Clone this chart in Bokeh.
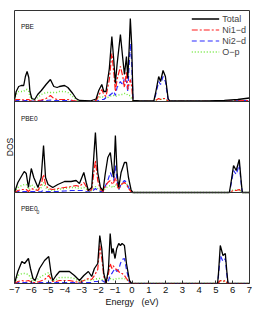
from bokeh.plotting import figure
from bokeh.models import Range1d, Span, Label, Legend, LegendItem, FixedTicker
from bokeh.embed import file_html
from bokeh.resources import INLINE

# ---------------- data ----------------
series_names = ["Total", "Ni1\u2212d", "Ni2\u2212d", "O\u2212p"]
tick_values = [-7, -6, -5, -4, -3, -2, -1, 0, 1, 2, 3, 4, 5, 6, 7]
tick_labels = ["\u22127", "\u22126", "\u22125", "\u22124", "\u22123", "\u22122", "\u22121",
               "0", "1", "2", "3", "4", "5", "6", "7"]
panel_names = ["PBE", "PBE0", "PBE0"]

# PBE
pbe_e = [-7.0, -6.9, -6.75, -6.6, -6.45, -6.35, -6.25, -6.15, -6.08, -5.97, -5.8, -5.62, -5.4,
         -5.12, -4.86, -4.66, -4.46, -4.32, -4.02, -3.82, -3.53, -3.33, -3.13, -2.5, -2.14,
         -1.98, -1.8, -1.68, -1.55, -1.35, -1.2, -1.08, -0.99, -0.89, -0.69, -0.55, -0.45,
         -0.33, -0.25, -0.16, -0.1, -0.02, 0.06, 0.5, 1.3, 1.4, 1.59, 1.7, 1.85, 1.99, 2.15,
         2.25, 4.5, 5.5, 6.3, 7.0]
pbe_total = [2, 10, 15, 16, 16, 25, 30, 24, 10, 3, 2, 7, 11,
             17, 22, 15, 14, 15, 16, 14, 8, 3, 1, 0.5, 2.5,
             11, 17, 10, 10, 33, 65, 40, 18, 37, 67, 43, 27,
             45, 23, 57, 83, 57, 1, 0.5, 0.5, 8, 25, 20, 31, 25, 3,
             0.5, 0.6, 1.2, 2, 3.5]
pbe_ni1 = [1, 2, 2, 2, 1.5, 2, 2, 2, 1, 0.5, 0.5, 1, 1.5,
           3, 6, 3, 2, 2, 2, 2, 1, 0.5, 0.3, 0.2, 1,
           6, 12, 7, 5, 22, 48, 28, 10, 22, 35, 25, 14,
           30, 12, 18, 22, 15, 0.3, 0.2, 0.2, 1, 3, 2, 3, 3, 0.5,
           0.2, 0.2, 0.4, 0.6, 1]
pbe_ni2 = [0.5, 1, 1, 1, 1, 1, 1, 1, 0.5, 0.3, 0.3, 0.5, 1,
           1, 1.5, 1, 1, 1, 1, 1, 0.5, 0.3, 0.2, 0.1, 0.5,
           1, 2, 2, 4, 6, 8, 10, 6, 14, 20, 16, 24,
           20, 10, 40, 58, 40, 0.5, 0.2, 0.2, 6, 20, 17, 25, 20, 2,
           0.2, 0.2, 0.4, 0.6, 1]
pbe_op = [1.5, 7, 10, 10, 10, 12, 12, 10, 5, 2, 1.5, 4, 7,
          9, 9, 9, 9, 10, 10, 9, 5, 2, 0.5, 0.3, 1,
          4, 5, 4, 3, 5, 6, 6, 5, 6, 7, 7, 8,
          8, 6, 6, 5, 3, 0.2, 0.1, 0.1, 1, 3, 2, 3, 2, 0.3,
          0.1, 0.1, 0.2, 0.3, 0.5]

# PBE0
pbe0_e = [-7.0, -6.8, -6.56, -6.42, -6.3, -6.17, -6.0, -5.85, -5.6, -5.41, -5.27, -5.15, -5.0,
          -4.72, -4.42, -4.02, -3.63, -3.33, -3.13, -2.87, -2.73, -2.6, -2.4, -2.18, -2.04,
          -1.88, -1.72, -1.6, -1.44, -1.29, -1.15, -1.09, -0.99, -0.89, -0.79, -0.65, -0.45,
          -0.33, -0.21, -0.06, 0.04, 5.8, 5.9, 6.05, 6.21, 6.39, 6.5, 6.57, 7.0]
pbe0_total = [0, 10, 17, 21, 19, 5, 24, 15, 5, 15, 47, 15, 8,
              5, 8, 11, 11, 12, 9, 20, 10, 2, 5, 60, 20,
              5, 2, 18, 35, 40, 20, 15, 57, 20, 5, 20, 30,
              30, 15, 3, 0, 0, 10, 27, 22, 33, 12, 0, 0]
pbe0_ni1 = [0, 2, 3, 3, 3, 1, 4, 3, 2, 8, 18, 8, 4,
            3, 4, 5, 6, 7, 6, 10, 6, 1, 3, 32, 12,
            3, 1, 6, 10, 12, 8, 10, 15, 8, 3, 8, 10,
            8, 4, 1, 0, 0, 1, 2, 2, 3, 1, 0, 0]
pbe0_ni2 = [0, 1, 1, 1, 1, 0.5, 1, 1, 0.5, 1, 2, 1, 1,
            1, 1, 1.5, 2, 2, 2, 2, 1, 0.5, 1, 4, 2,
            1, 1, 6, 12, 20, 14, 12, 27, 12, 3, 8, 12,
            10, 5, 1, 0, 0, 8, 22, 18, 28, 10, 0, 0]
pbe0_op = [0, 5, 7, 8, 8, 3, 8, 6, 2, 5, 10, 5, 3,
           2, 3, 4, 5, 5, 4, 5, 4, 1, 2, 6, 4,
           2, 1, 4, 6, 7, 5, 5, 8, 6, 3, 8, 10,
           9, 5, 1, 0, 0, 1, 3, 2, 3, 1, 0, 0]

# PBE0_0
pbe00_e = [-7.0, -6.8, -6.56, -6.4, -6.17, -6.05, -5.9, -5.77, -5.51, -5.21, -4.96, -4.82, -4.72,
           -4.52, -4.32, -4.02, -3.73, -3.43, -3.13, -2.87, -2.6, -2.4, -2.24, -2.04, -1.92,
           -1.8, -1.68, -1.54, -1.4, -1.3, -1.2, -1.13, -1.01, -0.91, -0.79, -0.69, -0.59,
           -0.45, -0.33, -0.15, -0.02, 5.1, 5.16, 5.26, 5.42, 5.56, 5.65, 5.72, 7.0]
pbe00_total = [0, 12, 22, 20, 25, 15, 5, 3, 15, 23, 27, 10, 3,
               8, 12, 12, 12, 8, 3, 8, 12, 7, 15, 20, 48,
               35, 10, 0.5, 15, 50, 30, 35, 25, 35, 40, 38, 40,
               38, 20, 3, 0, 0, 12, 38, 28, 30, 12, 0, 0]
pbe00_ni1 = [0, 2, 3, 2, 3, 2, 1, 1, 2, 4, 8, 4, 2,
             2, 3, 3, 3, 2, 1, 3, 5, 4, 8, 14, 38,
             25, 7, 0.3, 10, 20, 15, 18, 15, 14, 12, 10, 10,
             8, 5, 1, 0, 0, 1, 3, 2, 3, 1, 0, 0]
pbe00_ni2 = [0, 1, 1, 1, 1, 1, 0.5, 0.5, 1, 1, 1, 1, 0.5,
             1, 1, 1, 1, 1, 0.5, 1, 1, 1, 2, 2, 3,
             3, 2, 0.2, 3, 8, 10, 12, 15, 12, 14, 20, 24,
             25, 14, 1, 0, 0, 9, 28, 22, 25, 9, 0, 0]
pbe00_op = [0, 8, 10, 10, 9, 6, 3, 2, 6, 9, 11, 5, 2,
            4, 6, 6, 6, 5, 2, 3, 4, 3, 4, 5, 5,
            4, 2, 0.2, 3, 5, 4, 4, 4, 5, 5, 5, 5,
            5, 4, 1, 0, 0, 1, 3, 2, 2, 1, 0, 0]

# ---------------- styling ----------------
FONT = "Liberation Sans"
H = 91.0
colors = ["#000000", "#ff1a1a", "#2a2aff", "#6fe83a"]
dashes = ["solid", "6 2 2 2", "5 3", "1 2"]
widths = [1.3, 1.2, 1.2, 1.4]

p = figure(frame_width=235, frame_height=273, min_border_left=14, min_border_right=3,
           min_border_top=10, min_border_bottom=0,
           x_range=Range1d(-7, 7), y_range=Range1d(0, 3 * H),
           output_backend="svg", toolbar_location=None)
p.extra_y_ranges = {"pbe": Range1d(-2 * H, H), "pbe0": Range1d(-H, 2 * H)}
p.grid.visible = False
p.outline_line_color = "#333333"
p.outline_line_width = 1
p.background_fill_color = "white"
p.border_fill_color = "white"

panels = [
    ("pbe", pbe_e, [pbe_total, pbe_ni1, pbe_ni2, pbe_op]),
    ("pbe0", pbe0_e, [pbe0_total, pbe0_ni1, pbe0_ni2, pbe0_op]),
    ("default", pbe00_e, [pbe00_total, pbe00_ni1, pbe00_ni2, pbe00_op]),
]

legend_renderers = {}
for pi, (rname, es, vals) in enumerate(panels):
    for si in [3, 2, 1, 0]:
        r = p.line(es, vals[si], line_color=colors[si], line_dash=dashes[si],
                   line_width=widths[si], y_range_name=rname)
        if pi == 0:
            legend_renderers[si] = r

# panel separators
for loc in [H, 2 * H]:
    p.add_layout(Span(location=loc, dimension="width", line_color="#333333", line_width=1))

# panel labels
label_y = [75.3, 74.3, 75.5]
for pi, (rname, _, _) in enumerate(panels):
    p.add_layout(Label(x=-6.62, y=label_y[pi], y_range_name=rname, text=panel_names[pi],
                       text_font=FONT, text_font_size="6.5px", text_align="left",
                       text_baseline="middle", text_color="#111111"))
p.add_layout(Label(x=-6.62, y=71.5, x_offset=15.5, text="0",
                   text_font=FONT, text_font_size="5px", text_align="left",
                   text_baseline="middle", text_color="#111111"))

# legend
items = [LegendItem(label=series_names[i], renderers=[legend_renderers[i]]) for i in range(4)]
legend = Legend(items=items, location="top_right", margin=3, padding=2, spacing=0,
                glyph_width=28, glyph_height=11, label_height=11, label_standoff=3,
                label_text_font=FONT, label_text_font_size="9px",
                background_fill_alpha=0, border_line_color=None)
p.add_layout(legend)

# y axis: label only
ay = p.yaxis[0]
ay.ticker = FixedTicker(ticks=[])
ay.major_label_text_font_size = "0px"
ay.major_tick_line_color = None
ay.minor_tick_line_color = None
ay.axis_line_color = None
ay.major_label_standoff = 0
ay.axis_label = "DOS"
ay.axis_label_text_font = FONT
ay.axis_label_text_font_style = "normal"
ay.axis_label_text_font_size = "8.5px"
ay.axis_label_text_color = "#111111"
ay.axis_label_standoff = 0

# x axis
ax = p.xaxis[0]
ax.ticker = FixedTicker(ticks=tick_values)
ax.major_label_overrides = {v: s for v, s in zip(tick_values, tick_labels)}
ax.major_tick_in = 3
ax.major_tick_out = 0
ax.minor_tick_line_color = None
ax.major_tick_line_color = "#333333"
ax.axis_line_color = None
ax.major_label_standoff = 3
ax.major_label_text_font = FONT
ax.major_label_text_font_size = "9.5px"
ax.major_label_text_color = "#111111"
ax.axis_label = "Energy\u00a0\u00a0\u00a0(eV)"
ax.axis_label_text_font = FONT
ax.axis_label_text_font_style = "normal"
ax.axis_label_text_font_size = "9px"
ax.axis_label_text_color = "#111111"
ax.axis_label_standoff = 1

open("out.html", "w").write(file_html(p, INLINE))
